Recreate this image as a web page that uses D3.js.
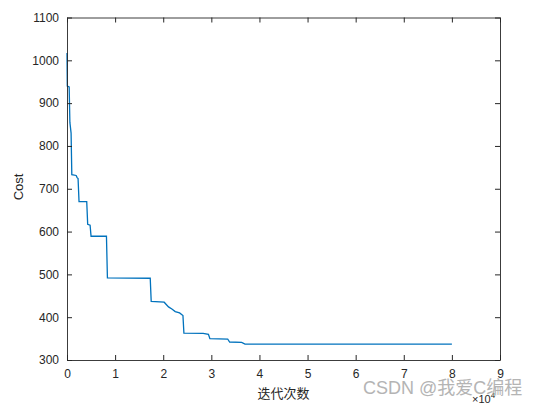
<!DOCTYPE html>
<html><head><meta charset="utf-8">
<script src="https://cdn.jsdelivr.net/npm/d3@7"></script>
<style>body{margin:0;background:#fff}svg{display:block}</style>
</head><body><svg id="c" width="536" height="405"></svg>
<script>
// iteration number, cost
const iterations = [0,60,450,600,850,1000,1900,2100,2300,2500,4100,4300,4800,5000,8200,8400,17300,17500,20200,21100,21800,22500,23400,24100,24300,28300,29400,29700,33400,33800,36300,37000,80000];
const costs      = [1017,940,938,855,830,733,731,726,724,670,670,617,615,589,589,492,491,437,435,424,419,413,410,404,363,362,360,350,349,342,341,337,337];
const xTicks = [0,1,2,3,4,5,6,7,8,9];
const yTicks = [300,400,500,600,700,800,900,1000,1100];
const xLabel = "迭代次数", yLabel = "Cost", expLabel = "×10", expPow = "4";
const watermark = "CSDN @我爱C编程";

const L=67,R=500,T=17.5,B=360;
const svg=d3.select("#c");
const x=d3.scaleLinear().domain([0,90000]).range([L,R]);
const y=d3.scaleLinear().domain([300,1100]).range([B,T]);
const ax="#262626", font="'Liberation Sans',Arial,sans-serif";

const line=d3.line().x(d=>x(d[0])).y(d=>y(d[1]));
svg.append("path").datum(iterations.map((v,i)=>[v,costs[i]]))
  .attr("d",line).attr("fill","none").attr("stroke","#0072BD").attr("stroke-width",1.3);

const g=svg.append("g").attr("font-family",font);
const xs=d3.scaleLinear().domain([0,9]).range([L,R]);
const xb=d3.axisBottom(xs).tickValues(xTicks).tickSizeInner(-5).tickSizeOuter(0).tickPadding(9).tickFormat(d3.format("d"));
const xt=d3.axisTop(xs).tickValues(xTicks).tickSizeInner(-5).tickSizeOuter(0).tickFormat("");
const yl=d3.axisLeft(y).tickValues(yTicks).tickSizeInner(-5).tickSizeOuter(0).tickPadding(8).tickFormat(d3.format("d"));
const yr=d3.axisRight(y).tickValues(yTicks).tickSizeInner(-5).tickSizeOuter(0).tickFormat("");
[[xb,`translate(0,${B})`],[xt,`translate(0,${T})`],[yl,`translate(${L},0)`],[yr,`translate(${R},0)`]].forEach(([a,t])=>{
  const s=g.append("g").attr("transform",t).call(a);
  s.selectAll("path,line").attr("stroke",ax);
  s.selectAll("text").attr("fill",ax).attr("font-size",12).attr("font-family",font);
  s.select(".domain").attr("stroke-width",0.9);
});

svg.append("text").attr("x",(L+R)/2).attr("y",398).attr("text-anchor","middle")
  .attr("font-family","'Noto Sans CJK SC',sans-serif").attr("font-size",13).attr("fill",ax).text(xLabel);
svg.append("text").attr("transform",`translate(23,187) rotate(-90)`).attr("text-anchor","middle")
  .attr("font-family",font).attr("font-size",13).attr("fill",ax).text(yLabel);
const e=svg.append("text").attr("x",472).attr("y",403).attr("font-family",font).attr("font-size",11).attr("fill",ax);
e.append("tspan").text(expLabel);
e.append("tspan").attr("dy",-5).attr("font-size",8).text(expPow);

svg.append("text").attr("x",363).attr("y",394).attr("font-family","'Liberation Sans','Noto Sans CJK SC',sans-serif")
  .attr("font-size",18).attr("fill","#a8a8a8").attr("opacity",0.85).text(watermark);
</script></body></html>
